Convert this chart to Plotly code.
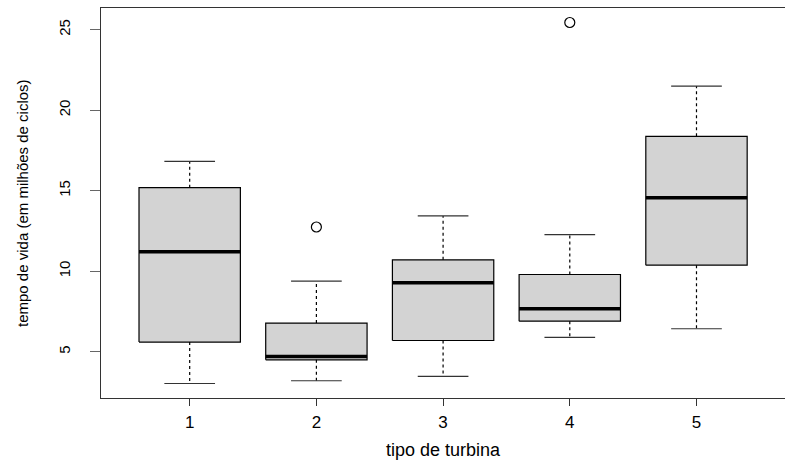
import plotly.graph_objects as go

# data
categories = [1, 2, 3, 4, 5]
tick_labels = ["1", "2", "3", "4", "5"]
lower_whisker = [3.03, 3.20, 3.47, 5.89, 6.43]
q1 = [5.60, 4.50, 5.70, 6.90, 10.38]
median = [11.22, 4.70, 9.28, 7.67, 14.57]
q3 = [15.19, 6.78, 10.71, 9.80, 18.38]
upper_whisker = [16.83, 9.39, 13.44, 12.28, 21.50]
outlier_x = [2, 4]
outlier_y = [12.75, 25.45]
y_ticks = [5, 10, 15, 20, 25]

W, H = 785, 460
L, R, T, B = 101, 0, 8, 62
half_box = 0.4
half_cap = 0.2
x_range = [0.3, 0.3 + (W - L - R) / 126.7]
y_range = [2.13, 26.35]

fig = go.Figure()
for i, c in enumerate(categories):
    # box
    fig.add_trace(go.Scatter(
        x=[c - half_box, c + half_box, c + half_box, c - half_box, c - half_box],
        y=[q1[i], q1[i], q3[i], q3[i], q1[i]],
        mode="lines", fill="toself", fillcolor="#d3d3d3",
        line=dict(color="black", width=1.2), hoverinfo="skip", showlegend=False))
    # whiskers (dashed)
    fig.add_trace(go.Scatter(
        x=[c, c, None, c, c], y=[q3[i], upper_whisker[i], None, q1[i], lower_whisker[i]],
        mode="lines", line=dict(color="black", width=1.2, dash="3px,3px"),
        hoverinfo="skip", showlegend=False))
    # caps
    fig.add_trace(go.Scatter(
        x=[c - half_cap, c + half_cap, None, c - half_cap, c + half_cap],
        y=[upper_whisker[i], upper_whisker[i], None, lower_whisker[i], lower_whisker[i]],
        mode="lines", line=dict(color="#333333", width=1.2),
        hoverinfo="skip", showlegend=False))
    # median
    fig.add_trace(go.Scatter(
        x=[c - half_box, c + half_box], y=[median[i], median[i]],
        mode="lines", line=dict(color="black", width=3.5),
        hoverinfo="skip", showlegend=False))

fig.add_trace(go.Scatter(
    x=outlier_x, y=outlier_y, mode="markers",
    marker=dict(symbol="circle-open", size=10, color="black", line=dict(width=1.2)),
    hoverinfo="skip", showlegend=False))

font_family = "Liberation Sans, Arial, sans-serif"
fig.update_layout(
    width=W, height=H,
    margin=dict(l=L, r=R, t=T, b=B),
    paper_bgcolor="white", plot_bgcolor="white",
    font=dict(family=font_family, color="black"),
    xaxis=dict(range=x_range, tickvals=categories, ticktext=tick_labels,
               showgrid=False, zeroline=False, showline=True, mirror=True,
               linecolor="#333333", linewidth=1.3, ticks="outside", ticklen=7,
               tickcolor="#333333", tickwidth=1, tickfont=dict(size=17),
               ticklabelstandoff=1),
    yaxis=dict(range=y_range, tickvals=y_ticks, showgrid=False, zeroline=False,
               showline=True, mirror=False, linecolor="#333333", linewidth=1.3,
               ticks="outside", ticklen=10, tickcolor="#666666", tickwidth=1,
               tickangle=-90, tickfont=dict(size=15), ticklabelstandoff=14),
    annotations=[
        dict(text="tipo de turbina", xref="paper", yref="paper",
             x=0.5, y=-(450 - 398) / (H - T - B), xanchor="center", yanchor="middle",
             showarrow=False, font=dict(size=18)),
        dict(text="tempo de vida (em milhões de ciclos)", xref="paper", yref="paper",
             x=-(L - 22) / (W - L - R), y=0.5, xanchor="center", yanchor="middle",
             textangle=-90, showarrow=False, font=dict(size=15)),
    ],
)

fig.write_html("out.html")
